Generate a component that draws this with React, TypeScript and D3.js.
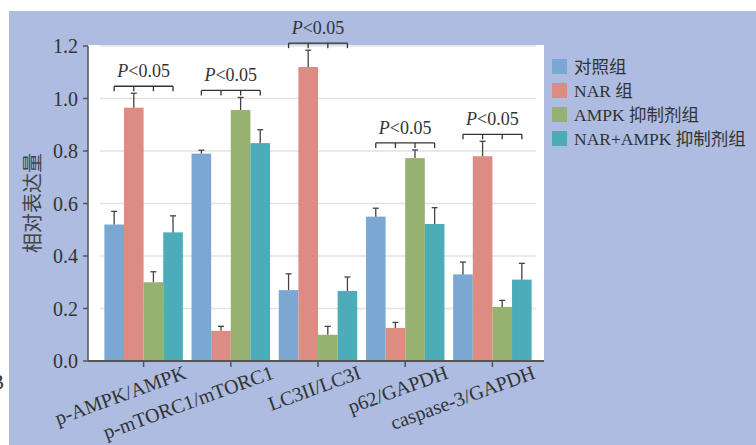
import React from 'react';
import * as d3 from 'd3';

const categories = ['p-AMPK/AMPK', 'p-mTORC1/mTORC1', 'LC3II/LC3I', 'p62/GAPDH', 'caspase-3/GAPDH'];
const seriesNames = ['对照组', 'NAR 组', 'AMPK 抑制剂组', 'NAR+AMPK 抑制剂组'];
const controlValues = [0.52, 0.79, 0.27, 0.55, 0.33];
const controlErrors = [0.05, 0.013, 0.062, 0.032, 0.047];
const narValues = [0.965, 0.115, 1.12, 0.126, 0.78];
const narErrors = [0.055, 0.017, 0.064, 0.021, 0.057];
const ampkValues = [0.3, 0.956, 0.1, 0.773, 0.206];
const ampkErrors = [0.04, 0.048, 0.032, 0.031, 0.025];
const comboValues = [0.49, 0.83, 0.267, 0.522, 0.31];
const comboErrors = [0.063, 0.051, 0.053, 0.062, 0.062];
const yTicks = [0, 0.2, 0.4, 0.6, 0.8, 1.0, 1.2];
const sigLabels = ['P<0.05', 'P<0.05', 'P<0.05', 'P<0.05', 'P<0.05'];
const yLabel = '相对表达量';

const colors = ['#7ba7d3', '#dc8c82', '#97b270', '#4cadb9'];
const seriesValues = [controlValues, narValues, ampkValues, comboValues];
const seriesErrors = [controlErrors, narErrors, ampkErrors, comboErrors];

const W = 756, H = 445;
const plot = { left: 88, right: 544, top: 45, bottom: 361 };
const serif = '"Liberation Serif", "Times New Roman", serif';
const cjk = '"Liberation Serif", "Noto Sans CJK SC", serif';
const textColor = '#333';

export default function App() {
  const y = d3.scaleLinear().domain([0, 1.2]).range([plot.bottom, 46]);
  const x = d3.scaleBand<string>().domain(categories).range([100, 536]).paddingInner(0.1).paddingOuter(0.05);
  const xs = d3.scaleBand<number>().domain(d3.range(4)).range([0, x.bandwidth()]);

  return (
    <svg width={W} height={H} style={{ position: 'absolute', left: 0, top: 0 }} fontFamily={serif}>
      <rect x={0} y={0} width={W} height={H} fill="#fff" />
      <rect x={9} y={11} width={W - 9} height={H - 11} fill="#adbce0" />
      <rect x={plot.left} y={plot.top} width={plot.right - plot.left} height={plot.bottom - plot.top} fill="#fff" />
      <text x={4} y={389} fontSize={20} textAnchor="end" fill={textColor}>B</text>

      {yTicks.filter(t => t > 0).map(t => (
        <line key={'g' + t} x1={100} x2={536} y1={y(t)} y2={y(t)} stroke="#e2e2e2" strokeWidth={1.5} />
      ))}

      {seriesValues.map((vals, si) =>
        categories.map((c, ci) => {
          const bx = (x(c) as number) + (xs(si) as number);
          const v = vals[ci];
          const e = seriesErrors[si][ci];
          const cx = bx + xs.bandwidth() / 2;
          return (
            <g key={si + '-' + ci}>
              <rect x={bx} y={y(v)} width={xs.bandwidth()} height={y(0) - y(v)} fill={colors[si]} />
              <line x1={cx} x2={cx} y1={y(v)} y2={y(v + e)} stroke="#444" strokeWidth={1.3} />
              <line x1={cx - 3} x2={cx + 3} y1={y(v + e)} y2={y(v + e)} stroke="#444" strokeWidth={1.3} />
            </g>
          );
        })
      )}

      {/* axes */}
      <line x1={plot.left} x2={plot.left} y1={46} y2={plot.bottom} stroke="#555" strokeWidth={1.5} />
      <line x1={plot.left} x2={plot.right} y1={plot.bottom} y2={plot.bottom} stroke="#555" strokeWidth={2} />
      {yTicks.map(t => (
        <g key={'yt' + t}>
          <line x1={plot.left - 5} x2={plot.left} y1={y(t)} y2={y(t)} stroke="#555" strokeWidth={1.5} />
          <text x={78} y={y(t)} dy="0.35em" textAnchor="end" fontSize={20} fill={textColor}>{t.toFixed(1)}</text>
        </g>
      ))}
      {categories.map(c => {
        const cx = (x(c) as number) + x.bandwidth() / 2;
        return (
          <g key={'xt' + c}>
            <line x1={cx} x2={cx} y1={plot.bottom} y2={plot.bottom + 6} stroke="#555" strokeWidth={1.5} />
            <text transform={`translate(${cx + 44},${plot.bottom + 17}) rotate(-20)`} textAnchor="end" fontSize={20} fill={textColor}>{c}</text>
          </g>
        );
      })}

      <text transform={`translate(40,203) rotate(-90)`} textAnchor="middle" fontSize={20} fill="#444" fontFamily='"Noto Sans CJK SC", sans-serif'>{yLabel}</text>

      {/* significance brackets */}
      {categories.map((c, ci) => {
        const tops = seriesValues.map((vals, si) => y(vals[ci] + seriesErrors[si][ci]));
        const by = (d3.min(tops) as number) - 7;
        const centers = d3.range(4).map(si => (x(c) as number) + (xs(si) as number) + xs.bandwidth() / 2);
        const mid = (centers[0] + centers[3]) / 2;
        return (
          <g key={'sig' + c}>
            <line x1={centers[0]} x2={centers[3]} y1={by} y2={by} stroke="#333" strokeWidth={1.3} />
            {centers.map((cx, k) => (
              <line key={k} x1={cx} x2={cx} y1={by} y2={by + 5} stroke="#333" strokeWidth={1.3} />
            ))}
            <text x={mid} y={by - 9} textAnchor="middle" fontSize={18} fill={textColor}>
              <tspan fontStyle="italic">{sigLabels[ci].slice(0, 1)}</tspan>{sigLabels[ci].slice(1)}
            </text>
          </g>
        );
      })}

      {/* legend */}
      {seriesNames.map((n, i) => (
        <g key={'lg' + i} transform={`translate(552,${59 + i * 24})`}>
          <rect x={0} y={0} width={15} height={15} fill={colors[i]} />
          <text x={22} y={14} fontSize={17.5} fill={textColor} fontFamily={cjk}>{n}</text>
        </g>
      ))}
    </svg>
  );
}
